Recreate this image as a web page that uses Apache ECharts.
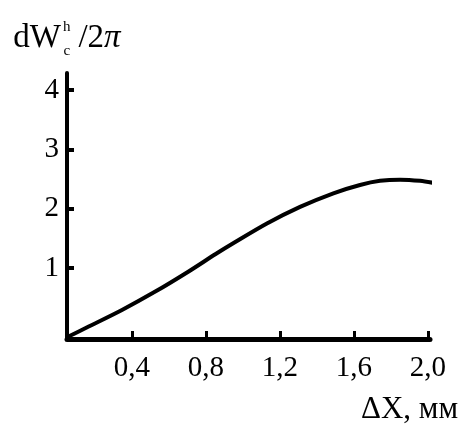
<!DOCTYPE html>
<html>
<head>
<meta charset="utf-8">
<script src="https://cdn.jsdelivr.net/npm/echarts@6/dist/echarts.min.js"></script>
<style>html,body{margin:0;padding:0;background:#fff}#c{width:465px;height:435px}</style>
</head>
<body>
<div id="c"></div>
<script>
// Data
const curveX = [0.05, 0.167, 0.347, 0.527, 0.707, 0.851, 0.950, 1.130, 1.309, 1.489, 1.633, 1.741, 1.849, 1.957, 2.038];
const curveY = [-0.17, 0.01, 0.29, 0.60, 0.94, 1.23, 1.42, 1.75, 2.03, 2.26, 2.40, 2.47, 2.49, 2.47, 2.43];
const xTickValues = [0.4, 0.8, 1.2, 1.6, 2.0];
const xTickLabels = ['0,4', '0,8', '1,2', '1,6', '2,0'];
const yTickValues = [1, 2, 3, 4];
const yTickLabels = ['1', '2', '3', '4'];

const FONT = 'Liberation Serif';
const chart = echarts.init(document.getElementById('c'), null, {renderer: 'canvas'});
chart.setOption({
  backgroundColor: '#fff',
  animation: false,
  grid: {left: 67, right: 35, top: 73, bottom: 96, containLabel: false, outerBoundsMode: 'none'},
  xAxis: {
    type: 'value', min: 0.05, max: 2.011,
    name: 'ΔX, мм', nameLocation: 'end', nameGap: 28,
    nameTextStyle: {fontFamily: FONT, fontSize: 31, color: '#000', align: 'right', verticalAlign: 'top', padding: [55, 0, 0, 0]},
    axisLine: {show: true, onZero: false, lineStyle: {color: '#000', width: 5}},
    axisTick: {show: true, inside: true, length: 8, customValues: xTickValues, lineStyle: {color: '#000', width: 3}},
    axisLabel: {customValues: xTickValues, margin: 15, fontFamily: FONT, fontSize: 29, color: '#000',
      formatter: v => { const i = xTickValues.findIndex(t => Math.abs(t - v) < 1e-6); return i >= 0 ? xTickLabels[i] : ''; }},
    splitLine: {show: false}
  },
  yAxis: {
    type: 'value', min: -0.2, max: 4.29,
    name: '{b|dW}{sup|h}{sub|c}{b| /2}{pi|π}', nameLocation: 'end', nameGap: 14,
    nameTextStyle: {
      align: 'center', color: '#000',
      rich: {
        b: {fontFamily: FONT, fontSize: 33, color: '#000'},
        pi: {fontFamily: FONT, fontSize: 33, fontStyle: 'italic', color: '#000'},
        sup: {fontFamily: FONT, fontSize: 15, color: '#000', padding: [0, 0, 22, 2]},
        sub: {fontFamily: FONT, fontSize: 15, color: '#000', padding: [26, 0, 0, -7]}
      }
    },
    axisLine: {show: true, onZero: false, lineStyle: {color: '#000', width: 4}},
    axisTick: {show: true, inside: true, length: 7, customValues: yTickValues, lineStyle: {color: '#000', width: 4}},
    axisLabel: {customValues: yTickValues, margin: 8, fontFamily: FONT, fontSize: 29, color: '#000',
      formatter: v => { const i = yTickValues.findIndex(t => Math.abs(t - v) < 1e-6); return i >= 0 ? yTickLabels[i] : ''; }},
    splitLine: {show: false}
  },
  series: [{
    type: 'line', smooth: 0.3, symbol: 'none', clip: false,
    data: curveX.map((x, i) => [x, curveY[i]]),
    lineStyle: {color: '#000', width: 4}
  }]
});
</script>
</body>
</html>
